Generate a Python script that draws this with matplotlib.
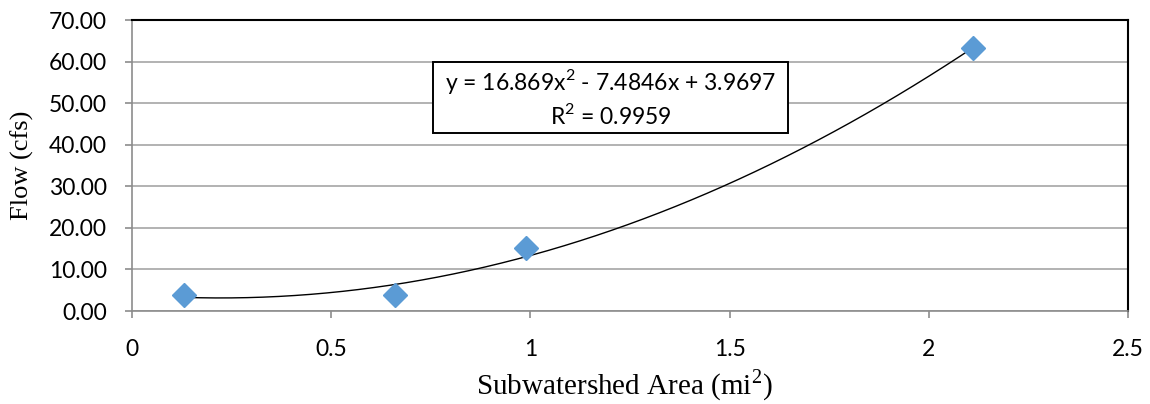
import numpy as np
import matplotlib
matplotlib.use("Agg")
import matplotlib.pyplot as plt
from matplotlib.ticker import FormatStrFormatter
from matplotlib.patches import Rectangle

# Data
area = [0.13, 0.66, 0.99, 2.11]
flow = [3.9, 3.9, 15.1, 63.2]
trend_coeffs = [16.869, -7.4846, 3.9697]
x_ticks = [0, 0.5, 1, 1.5, 2, 2.5]
x_tick_labels = ["0", "0.5", "1", "1.5", "2", "2.5"]
y_ticks = [0, 10, 20, 30, 40, 50, 60, 70]
equation_text = ("y = 16.869x$^{\\mathregular{2}}$ - 7.4846x + 3.9697\n"
                 "R$^{\\mathregular{2}}$ = 0.9959")

W, H = 1150, 404
L, R, T, B = 132, 1128, 20, 311
fig = plt.figure(figsize=(W / 100, H / 100), dpi=100)
ax = fig.add_axes([L / W, (H - B) / H, (R - L) / W, (B - T) / H])

def ax_x(px):
    return (px - L) / (R - L)

def ax_y(py):
    return (B - py) / (B - T)

tick_font = "Lato"
serif = "Liberation Serif"

ax.set_xlim(0, 2.5)
ax.set_ylim(0, 70)
ax.set_xticks(x_ticks)
ax.set_xticklabels(x_tick_labels)
ax.set_yticks(y_ticks)
ax.yaxis.set_major_formatter(FormatStrFormatter("%.2f"))
for lab in ax.get_xticklabels() + ax.get_yticklabels():
    lab.set_fontfamily(tick_font)
    lab.set_fontsize(16.5)
    lab.set_color("black")

ax.grid(axis="y", color="#a6a6a6", linewidth=1.2)
ax.set_axisbelow(True)
ax.tick_params(axis="both", direction="out", length=5, width=1.2, color="#8c8c8c")
ax.tick_params(axis="y", pad=13)
ax.tick_params(axis="x", pad=15)
for s in ("left", "bottom"):
    ax.spines[s].set_color("#8c8c8c")
    ax.spines[s].set_linewidth(1.2)
for s in ("top", "right"):
    ax.spines[s].set_color("black")
    ax.spines[s].set_linewidth(1.5)

xs = np.linspace(min(area), max(area), 200)
ys = np.polyval(trend_coeffs, xs)
ax.plot(xs, ys, color="black", linewidth=1.0, zorder=3)
ax.plot(area, flow, linestyle="none", marker="D", markersize=12.5,
        color="#5b9bd5", markeredgecolor="#5b9bd5", zorder=4)

ax.set_xlabel("Subwatershed Area (mi$^{\\mathregular{2}}$)", fontfamily=serif, fontsize=21)
ax.xaxis.set_label_coords(ax_x(624), ax_y(367))
ax.set_ylabel("Flow (cfs)", fontfamily=serif, fontsize=19)
ax.yaxis.set_label_coords(ax_x(34), 0.5)

# equation box
bx0, bx1, by0, by1 = 433, 788, 62, 133
ax.add_patch(Rectangle((ax_x(bx0), ax_y(by1)), ax_x(bx1) - ax_x(bx0), ax_y(by0) - ax_y(by1),
                       transform=ax.transAxes, facecolor="white", edgecolor="black",
                       linewidth=1.4, zorder=5))
ax.text(ax_x((bx0 + bx1) / 2), ax_y((by0 + by1) / 2), equation_text, transform=ax.transAxes,
        ha="center", va="center", fontfamily=tick_font, fontsize=16.5, linespacing=1.3, zorder=6)

fig.savefig("out.png", dpi=100)
